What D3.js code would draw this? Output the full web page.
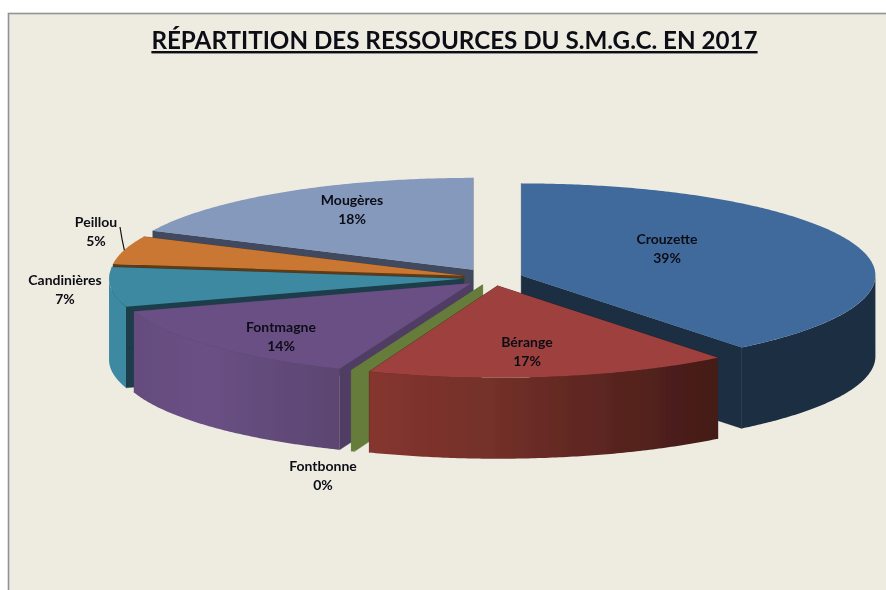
<!DOCTYPE html>
<html><head><meta charset="utf-8">
<style>html,body{margin:0;padding:0;background:#fff}svg{display:block}</style>
<script src="https://cdnjs.cloudflare.com/ajax/libs/d3/7.8.5/d3.min.js"></script>
</head><body><svg id="c" width="886" height="590"></svg>
<script>
const titleText = "RÉPARTITION DES RESSOURCES DU S.M.G.C. EN 2017";
const categories = ["Crouzette","Bérange","Fontbonne","Fontmagne","Candinières","Peillou","Mougères"];
const values = [39.3,16.6,0.15,14,7,4.95,18];
const explosion = [0.085,0.085,0.08,0.085,0.085,0.085,0.105];
const topColors = ["#416b9c","#9e413e","#667c3a","#6a5085","#3e89a2","#c97733","#8599bd"];
const edgeColors = ["#1a2d43","#441b18","#667c3a","#503e63","#1a3e49","#5f3a15","#3f4a5e"];
const wallStops = [
  [["#1a2d43",0],["#1a2d43",1]],
  [["#85352f",0],["#733029",0.35],["#431a17",1]],
  [["#667c3a",0],["#667c3a",1]],
  [["#654c7e",0],["#6a5085",0.35],["#5b4570",1]],
  [["#3e89a2",0],["#3e89a2",1]],
  [["#5f3a15",0],["#5f3a15",1]],
  [["#3f4a5e",0],["#3f4a5e",1]]
];
const paintOrder = [6,5,4,0,3,2,1];
const labelAnchors = [[667,239],[527,342],[323,466],[281,327],[65,280],[96,222],[352,200]];

const W=886,H=590,cx=493,cy=278,rx=354,ry=92,depth=81;
const svg=d3.select("#c");
const sx=d3.scaleLinear().domain([-1,1]).range([cx-rx,cx+rx]);
const sy=d3.scaleLinear().domain([-1,1]).range([cy-ry,cy+ry]);
const defs=svg.append("defs");
defs.append("filter").attr("id","soft").attr("filterUnits","userSpaceOnUse")
  .attr("x",0).attr("y",0).attr("width",W).attr("height",H)
  .append("feGaussianBlur").attr("stdDeviation",0.55);
const root=svg.append("g").attr("filter","url(#soft)");

root.append("rect").attr("x",8.5).attr("y",13.5).attr("width",W).attr("height",H)
  .attr("fill","#eeece1").attr("stroke","#929292").attr("stroke-width",1.6);

const arcs=d3.pie().sort(null).startAngle(0).endAngle(2*Math.PI)(values);
const geo=arcs.map((a,i)=>{
  const mid=(a.startAngle+a.endAngle)/2, e=explosion[i];
  return {a,i,ox:e*Math.sin(mid),oy:-e*Math.cos(mid)};
});
const line=d3.line().x(d=>d[0]).y(d=>d[1]);
function pt(g,ang,r,dz){return [sx(g.ox+r*Math.sin(ang)),sy(g.oy-r*Math.cos(ang))+dz];}
function arcPts(g,a0,a1,dz){
  const n=Math.max(2,Math.ceil((a1-a0)/0.01));
  return d3.range(n+1).map(k=>pt(g,a0+(a1-a0)*k/n,1,dz));
}
function gradient(i){
  const id="wall"+i;
  const lg=defs.append("linearGradient").attr("id",id).attr("gradientUnits","objectBoundingBox");
  wallStops[i].forEach(s=>lg.append("stop").attr("offset",s[1]).attr("stop-color",s[0]));
  return "url(#"+id+")";
}
const gSlices=root.append("g");
paintOrder.forEach(i=>{
  const g=geo[i],a0=g.a.startAngle,a1=g.a.endAngle,s=gSlices.append("g").attr("class","slice");
  [a0,a1].forEach(ang=>{
    const c=pt(g,0,0,0),c2=pt(g,0,0,depth),r=pt(g,ang,1,0),r2=pt(g,ang,1,depth);
    s.append("path").attr("d",line([c,r,r2,c2])+"Z").attr("fill",edgeColors[i]).attr("stroke",edgeColors[i]).attr("stroke-width",0.4);
  });
  const w0=Math.max(a0,Math.PI/2),w1=Math.min(a1,1.5*Math.PI);
  if(w1>w0){
    const top=arcPts(g,w0,w1,0),bot=arcPts(g,w0,w1,depth).reverse();
    s.append("path").attr("d",line(top.concat(bot))+"Z").attr("fill",gradient(i));
  }
  const face=[pt(g,0,0,0)].concat(arcPts(g,a0,a1,0));
  s.append("path").attr("d",line(face)+"Z").attr("fill",topColors[i]);
});

const fmt=d3.format(".0%"),total=d3.sum(values);
const gl=root.append("g").attr("font-family","Lato, sans-serif").attr("font-weight",700).attr("font-size",14)
  .attr("fill","#0c0c16").attr("text-anchor","middle");
categories.forEach((name,i)=>{
  const p=labelAnchors[i];
  const t=gl.append("text").attr("x",p[0]).attr("y",p[1]+5);
  t.append("tspan").attr("x",p[0]).text(name);
  t.append("tspan").attr("x",p[0]).attr("dy",18.5).text(fmt(values[i]/total));
});
const leaderFrom=labelAnchors[5],
      leaderTo=pt(geo[5],(geo[5].a.startAngle+geo[5].a.endAngle)/2,1,0);
root.append("path").attr("d",line([[leaderFrom[0]+24,leaderFrom[1]+5],[leaderFrom[0]+26,leaderFrom[1]+17],leaderTo]))
  .attr("fill","none").attr("stroke","#111").attr("stroke-width",1.2);

root.append("text").attr("x",454.5).attr("y",49).attr("text-anchor","middle")
  .attr("font-family","Lato, sans-serif").attr("font-weight",700).attr("font-size",24.2)
  .attr("fill","#0c0e18")
  .style("text-decoration","underline").style("text-decoration-thickness","3px").style("text-underline-offset","4px")
  .text(titleText);
</script></body></html>
